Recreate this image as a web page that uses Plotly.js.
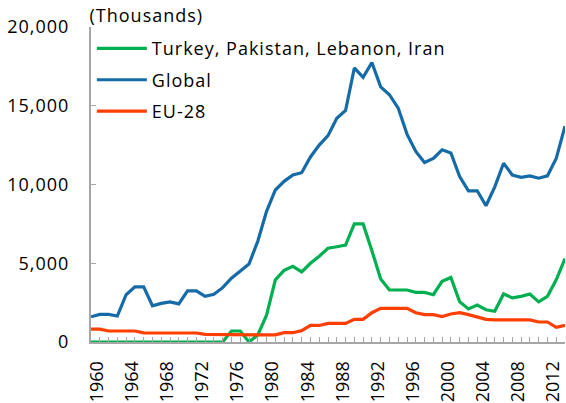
<!DOCTYPE html>
<html><head><meta charset="utf-8">
<script src="https://cdn.plot.ly/plotly-3.0.1.min.js"></script>
<style>
html,body{margin:0;padding:0;background:#fff}
#chart .legendtext, #chart .annotation-text, #chart .yaxislayer-above text { letter-spacing: 1px; }
#chart .legend, #chart .legend * { clip-path: none !important; }
#chart .legend .legendlines path { transform-origin: 0 0; transform: translate(35px, 0) scale(1.667, 1) translate(-35px, 0); }
</style>
</head><body>
<div id="chart" style="width:566px;height:403px"></div>
<script>
const years = [1960,1961,1962,1963,1964,1965,1966,1967,1968,1969,1970,1971,1972,1973,1974,1975,1976,1977,1978,1979,
  1980,1981,1982,1983,1984,1985,1986,1987,1988,1989,1990,1991,1992,1993,1994,1995,1996,1997,1998,1999,
  2000,2001,2002,2003,2004,2005,2006,2007,2008,2009,2010,2011,2012,2013,2014];
const turkeyPakistanLebanonIran = [0,0,0,0,0,0,0,0,0,0,0,0,0,0,0,0,700,700,0,450,
  1700,3950,4550,4800,4450,5000,5450,5950,6050,6150,7500,7500,5800,4000,3300,3300,3300,3150,3150,3000,
  3850,4100,2550,2100,2350,2050,1950,3050,2800,2900,3050,2550,2900,3950,5300];
const global = [1600,1750,1750,1650,3000,3500,3500,2300,2450,2550,2420,3250,3250,2900,3030,3450,4050,4470,4950,6400,
  8300,9650,10200,10600,10750,11750,12500,13100,14200,14700,17400,16800,17750,16200,15700,14850,13200,12100,11400,11650,
  12200,12000,10500,9600,9600,8650,9850,11350,10600,10450,10550,10400,10550,11650,13700];
const eu28 = [820,820,700,700,700,700,580,570,570,570,570,570,570,480,470,470,470,470,470,470,
  450,450,590,590,720,1050,1050,1180,1180,1180,1440,1440,1860,2140,2140,2140,2140,1860,1740,1740,
  1610,1780,1860,1740,1570,1440,1400,1400,1400,1400,1400,1270,1270,930,1060];
const seriesNames = ["Turkey, Pakistan, Lebanon, Iran", "Global", "EU-28"];
const xTickYears = [1960,1964,1968,1972,1976,1980,1984,1988,1992,1996,2000,2004,2008,2012];
const yTickValues = [0,5000,10000,15000,20000];
const unitLabel = "(Thousands)";

const FONT = "'Open Sans', 'Noto Sans', sans-serif";
const AXIS = "#A6A6A6";
const colors = ["#00B050", "#146BA8", "#FF3F00"];
const seriesValues = [turkeyPakistanLebanonIran, global, eu28];

const traces = seriesValues.map((vals, i) => ({
  type: "scatter", mode: "lines", x: years, y: vals, name: seriesNames[i],
  legendgroup: "g" + i,
  line: {color: colors[i], width: 3.2}, hoverinfo: "skip"
}));

const layout = {
  width: 566, height: 403,
  margin: {l: 91, r: 1, t: 27, b: 61},
  paper_bgcolor: "#fff", plot_bgcolor: "#fff",
  font: {family: FONT, size: 18, color: "#000"},
  showlegend: true,
  legend: {x: 0.044, y: 0.99, xanchor: "left", yanchor: "top", bgcolor: "rgba(0,0,0,0)",
    font: {family: FONT, size: 18, color: "#000"}, tracegroupgap: 5, itemwidth: 30},
  xaxis: {
    range: [1960, 2014], tickmode: "array", tickvals: xTickYears, ticktext: xTickYears.map(String),
    tickangle: -90, ticks: "inside", ticklen: 5, tickcolor: AXIS, tickwidth: 1,
    showline: true, linecolor: AXIS, linewidth: 2, showgrid: false, zeroline: false,
    minor: {tick0: 1960, dtick: 1, ticks: "inside", ticklen: 5, tickcolor: AXIS, tickwidth: 1, showgrid: false},
    tickfont: {family: FONT, size: 18, color: "#000"}, ticklabelshift: 6, ticklabelstandoff: 10
  },
  yaxis: {
    range: [0, 20000], tickmode: "array", tickvals: yTickValues, tickformat: ",d",
    ticks: "inside", ticklen: 5, tickcolor: AXIS, tickwidth: 1,
    showline: true, linecolor: AXIS, linewidth: 2, showgrid: false, zeroline: false,
    tickfont: {family: FONT, size: 18, color: "#000"}, ticklabelstandoff: 16
  },
  annotations: [{
    text: unitLabel, xref: "paper", yref: "paper", x: 0, y: 1, xanchor: "left", yanchor: "bottom",
    showarrow: false, xshift: 2, yshift: -2, font: {family: FONT, size: 18, color: "#000"}
  }]
};

Plotly.newPlot("chart", traces, layout, {displayModeBar: false, staticPlot: true});
</script>
</body></html>
